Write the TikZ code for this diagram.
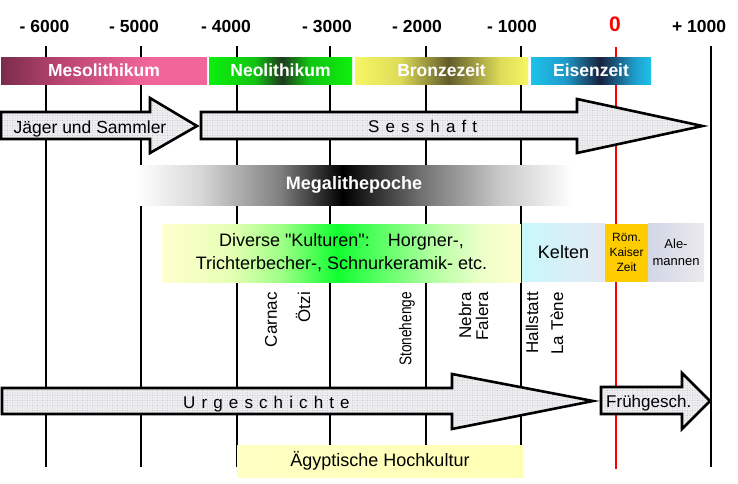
\documentclass[tikz,border=0pt]{standalone}
\usepackage{fontspec}
\setmainfont{Liberation Sans}[Ligatures=TeXOff]
\newfontfamily\tlSpaced[LetterSpace=36]{Liberation Sans}
\usetikzlibrary{patterns.meta}
\definecolor{tlInk}{HTML}{000000}
\definecolor{tlRed}{HTML}{FF0000}
\definecolor{tlArrowFill}{HTML}{EEEEF1}
\definecolor{tlArrowDot}{HTML}{A8A8B2}
\definecolor{tlMesoA}{HTML}{7A2C4C}
\definecolor{tlMesoB}{HTML}{B8446E}
\definecolor{tlMesoC}{HTML}{F2659B}
\definecolor{tlNeoA}{HTML}{0DF00D}
\definecolor{tlNeoB}{HTML}{12C412}
\definecolor{tlNeoC}{HTML}{1E3A1E}
\definecolor{tlBronzeA}{HTML}{F6F664}
\definecolor{tlBronzeB}{HTML}{DEDC58}
\definecolor{tlBronzeC}{HTML}{625C2A}
\definecolor{tlIronA}{HTML}{1EC2EA}
\definecolor{tlIronB}{HTML}{1E9CCC}
\definecolor{tlIronC}{HTML}{17223E}
\definecolor{tlMegaA}{HTML}{D8D8D8}
\definecolor{tlMegaB}{HTML}{808080}
\definecolor{tlMegaC}{HTML}{707070}
\definecolor{tlMegaD}{HTML}{C8C8C8}
\definecolor{tlCultA}{HTML}{FFFFD0}
\definecolor{tlCultB}{HTML}{E6FFB4}
\definecolor{tlCultC}{HTML}{A0FF88}
\definecolor{tlCultD}{HTML}{10FF30}
\definecolor{tlCultE}{HTML}{B0FFA0}
\definecolor{tlCultF}{HTML}{ECFFC8}
\definecolor{tlKeltenA}{HTML}{C8F8FC}
\definecolor{tlKeltenB}{HTML}{E4E8F2}
\definecolor{tlRoman}{HTML}{FFCC00}
\definecolor{tlAleA}{HTML}{D2D6E6}
\definecolor{tlAleB}{HTML}{EAEAEC}
\definecolor{tlEgyptA}{HTML}{FFFFC4}
\definecolor{tlEgyptB}{HTML}{FFFF00}
\definecolor{tlEgyptC}{HTML}{FFFFB4}

\pgfdeclarehorizontalshading{tlMeso}{100bp}{color(0bp)=(tlMesoA); color(25bp)=(tlMesoA);
  color(39bp)=(tlMesoB); color(61bp)=(tlMesoC); color(75bp)=(tlMesoC); color(100bp)=(tlMesoC)}
\pgfdeclarehorizontalshading{tlNeo}{100bp}{color(0bp)=(tlNeoA); color(25bp)=(tlNeoA);
  color(41bp)=(tlNeoB); color(50.5bp)=(tlNeoC); color(60bp)=(tlNeoB); color(75bp)=(tlNeoA); color(100bp)=(tlNeoA)}
\pgfdeclarehorizontalshading{tlBronze}{100bp}{color(0bp)=(tlBronzeA); color(25bp)=(tlBronzeA);
  color(38bp)=(tlBronzeB); color(52bp)=(tlBronzeC); color(67bp)=(tlBronzeB); color(75bp)=(tlBronzeA); color(100bp)=(tlBronzeA)}
\pgfdeclarehorizontalshading{tlIron}{100bp}{color(0bp)=(tlIronA); color(25bp)=(tlIronA);
  color(39bp)=(tlIronB); color(53.8bp)=(tlIronC); color(68bp)=(tlIronB); color(75bp)=(tlIronA); color(100bp)=(tlIronA)}
\pgfdeclarehorizontalshading{tlMegalith}{100bp}{color(0bp)=(white); color(25bp)=(white);
  color(32.3bp)=(tlMegaA); color(41.5bp)=(tlMegaB); color(48.7bp)=(black); color(57.6bp)=(tlMegaC);
  color(66.7bp)=(tlMegaD); color(75bp)=(white); color(100bp)=(white)}
\pgfdeclarehorizontalshading{tlCultures}{100bp}{color(0bp)=(tlCultA); color(25bp)=(tlCultA);
  color(34.5bp)=(tlCultB); color(41.5bp)=(tlCultC); color(49.4bp)=(tlCultD); color(62.4bp)=(tlCultE);
  color(69.3bp)=(tlCultF); color(75bp)=(tlCultA); color(100bp)=(tlCultA)}

\tikzset{
  tl canvas/.style={fill=white},
  tl grid/.style={draw=tlInk, line width=1.5pt},
  tl zero/.style={draw=tlRed, line width=2.4pt},
  tl year/.style={font=\bfseries\fontsize{17.5}{20}\selectfont, text=tlInk, anchor=base, inner sep=0pt},
  tl period/.style={
    shade,
    minimum height=27pt,
    inner sep=0pt,
    font=\bfseries\fontsize{17.5}{20}\selectfont,
    text=white
  },
  tl block/.style={
    draw=tlInk,
    line width=2.6pt,
    preaction={fill=tlArrowFill},
    pattern={Dots[radius=.35pt, distance=2.5pt]},
    pattern color=tlArrowDot
  },
  tl label/.style={font=\fontsize{17.5}{21}\selectfont, text=tlInk, anchor=base, inner sep=0pt},
  tl spaced/.style={font=\tlSpaced\fontsize{17}{20}\selectfont, text=tlInk, anchor=base west, inner sep=0pt},
  tl culture/.style={inner sep=0pt, minimum height=58pt, align=center, text=tlInk},
  tl site/.style={rotate=90, anchor=east, inner sep=0pt, text=tlInk, font=\fontsize{17}{20}\selectfont}
}

\begin{document}
\begin{tikzpicture}[x=1pt,y=-1pt]
  \path[tl canvas] (0,0) rectangle (738,483);
  \useasboundingbox (0,0) rectangle (738,483);

  % years and grid
  \foreach \x/\t [count=\i] in {44.5/- 6000, 134/- 5000, 226/- 4000, 327/- 3000,
      417/- 2000, 512/- 1000, 699/+ 1000}
    \node[tl year] (year\i) at (\x,32) {\t};
  \node[tl year, text=tlRed, font=\bfseries\fontsize{21}{24}\selectfont] (year0) at (615,31) {0};
  \foreach \x in {46,141,237,330,426,521,711}
    \draw[tl grid] (\x,46) -- (\x,467);
  \draw[tl zero] (616,47) -- (616,469);

  % periods
  \node[tl period, shading=tlMeso, minimum width=206pt] (meso) at (104,70.5) {Mesolithikum};
  \node[tl period, shading=tlNeo, minimum width=143pt] (neo) at (280.5,70.5) {Neolithikum};
  \node[tl period, shading=tlBronze, minimum width=173pt] (bronze) at (441.5,70.5) {Bronzezeit};
  \node[tl period, shading=tlIron, minimum width=120pt] (iron) at (591,70.5) {Eisenzeit};

  % ways of life
  \draw[tl block] (201,112) -- (577,112) -- (577,99) -- (702.5,126) -- (577,153)
    -- (577,139) -- (201,139) -- cycle;
  \draw[tl block] (1,112) -- (150,112) -- (150,98) -- (197,126) -- (150,153)
    -- (150,139) -- (1,139) -- cycle;
  \node[tl label] (jaeger) at (90,133) {Jäger und Sammler};
  \node[tl spaced] (sesshaft) at (368,132) {Sesshaft};

  \node[tl period, shading=tlMegalith, minimum width=436pt, minimum height=40pt,
    font=\bfseries\fontsize{18}{20}\selectfont] (megalith) at (354,185) {Megalithepoche};

  % cultures
  \node[tl culture, shading=tlCultures, shade, minimum width=359pt,
    font=\fontsize{18}{23}\selectfont] (cultures) at (341.5,253)
    {Diverse "Kulturen":\hspace{1em}Horgner-,\\Trichterbecher-, Schnurkeramik- etc.};
  \node[tl culture, left color=tlKeltenA, right color=tlKeltenB, minimum width=83pt,
    font=\fontsize{18}{20}\selectfont] (kelten) at (563.5,252.5) {Kelten};
  \node[tl culture, fill=tlRoman, minimum width=43pt,
    font=\fontsize{12}{15}\selectfont] (roman) at (626.5,252.5) {Röm.\\Kaiser\\Zeit};
  \node[tl culture, left color=tlAleA, right color=tlAleB, minimum width=56pt,
    font=\fontsize{13}{17}\selectfont] (alemannen) at (676,252.5) {Ale-\\mannen};

  % sites
  \node[tl site] (carnac) at (271,292) {Carnac};
  \node[tl site] (oetzi) at (303,292) {Ötzi};
  \node[tl site] (stonehenge) at (407,292) {\scalebox{0.8}[1]{Stonehenge}};
  \node[tl site] (nebra) at (465,292) {Nebra};
  \node[tl site] (falera) at (482,292) {Falera};
  \node[tl site] (hallstatt) at (532,292) {Hallstatt};
  \node[tl site] (latene) at (557,292) {La Tène};

  % history
  \draw[tl block] (2,388) -- (452,388) -- (452,374) -- (593,401) -- (452,429)
    -- (452,414) -- (2,414) -- cycle;
  \draw[tl block] (601,387) -- (682,387) -- (682,373) -- (710,401) -- (682,429)
    -- (682,414) -- (601,414) -- cycle;
  \node[tl spaced] (urgeschichte) at (183,408) {Urgeschichte};
  \node[tl label, anchor=base west, font=\fontsize{17}{20}\selectfont] (fruehgesch) at (606,407) {Frühgesch.};

  \node[tl culture, left color=tlEgyptA, middle color=tlEgyptB, right color=tlEgyptC,
    minimum width=286pt, minimum height=32pt, font=\fontsize{18}{20}\selectfont]
    (egypt) at (380,461) {Ägyptische Hochkultur};
\end{tikzpicture}
\end{document}
